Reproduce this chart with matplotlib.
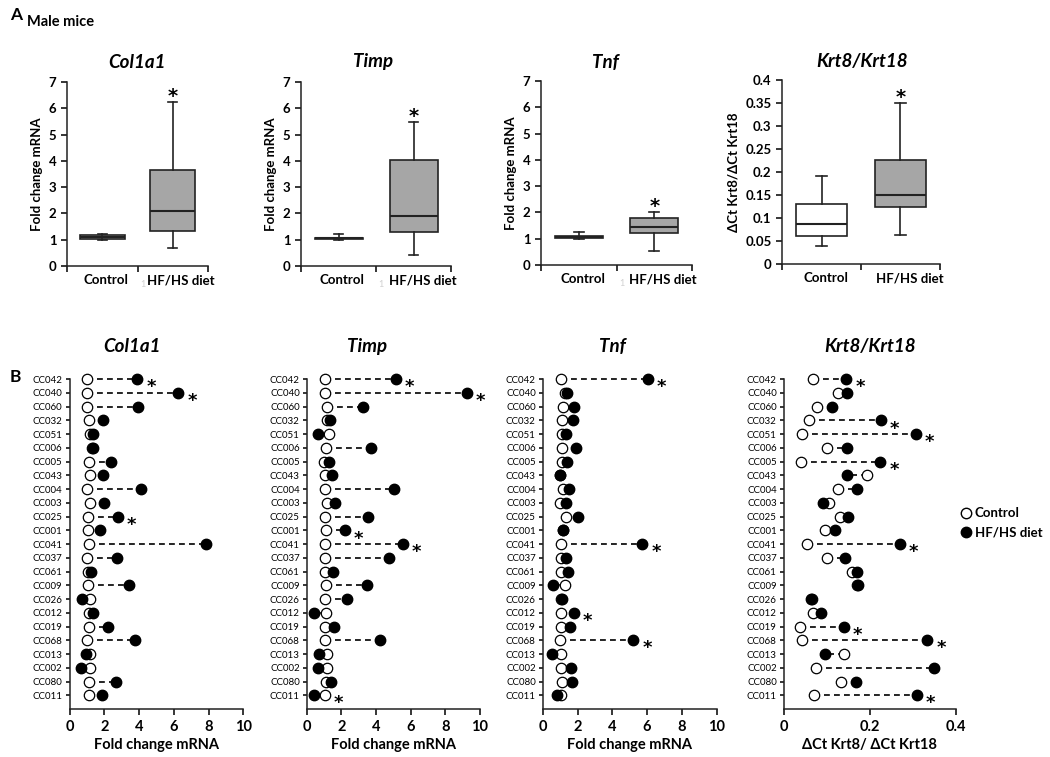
import matplotlib
matplotlib.use("Agg")
import matplotlib.pyplot as plt
from matplotlib.lines import Line2D

plt.rcParams["font.family"] = ["Lato", "DejaVu Sans"]

W, H = 1050, 757

# ── Panel A: box plot summaries [whislo, q1, med, q3, whishi] ──────────────
genes       = ["Col1a1", "Timp", "Tnf", "Krt8/Krt18"]
groups      = ["Control", "HF/HS diet"]
box_ctrl    = [[1.00, 1.03, 1.10, 1.17, 1.20],
               [1.00, 1.02, 1.05, 1.08, 1.20],
               [1.00, 1.02, 1.06, 1.10, 1.26],
               [0.040, 0.060, 0.086, 0.131, 0.192]]
box_hfhs    = [[0.70, 1.34, 2.10, 3.65, 6.23],
               [0.42, 1.28, 1.89, 4.03, 5.48],
               [0.54, 1.23, 1.46, 1.77, 2.00],
               [0.063, 0.123, 0.149, 0.225, 0.349]]
top_ylabels = ["Fold change mRNA", "Fold change mRNA", "Fold change mRNA",
               "ΔCt Krt8/ΔCt Krt18"]
top_ymax    = [7, 7, 7, 0.4]
top_ystep   = [1, 1, 1, 0.05]

# ── Panel B: per-strain means ──────────────────────────────────────────────
strains = ["CC042", "CC040", "CC060", "CC032", "CC051", "CC006", "CC005", "CC043",
           "CC004", "CC003", "CC025", "CC001", "CC041", "CC037", "CC061", "CC009",
           "CC026", "CC012", "CC019", "CC068", "CC013", "CC002", "CC080", "CC011"]

col1a1_ctrl = [1.03, 1.03, 1.00, 1.10, 1.18, 1.30, 1.15, 1.18, 1.00, 1.16, 1.07, 1.09,
               1.13, 1.00, 1.09, 1.09, 1.18, 1.15, 1.10, 1.00, 1.18, 1.18, 1.10, 1.10]
col1a1_hfhs = [3.90, 6.26, 3.96, 1.93, 1.34, 1.35, 2.37, 1.95, 4.10, 2.00, 2.79, 1.78,
               7.87, 2.75, 1.24, 3.44, 0.70, 1.38, 2.24, 3.77, 0.95, 0.68, 2.70, 1.87]
timp_ctrl   = [1.06, 1.06, 1.15, 1.20, 1.27, 1.10, 1.00, 1.08, 1.08, 1.15, 1.08, 1.12,
               1.08, 1.08, 1.06, 1.10, 1.08, 1.12, 1.06, 1.06, 1.15, 1.15, 1.12, 1.06]
timp_hfhs   = [5.15, 9.23, 3.23, 1.33, 0.67, 3.73, 1.31, 1.44, 5.04, 1.65, 3.52, 2.19,
               5.54, 4.77, 1.50, 3.46, 2.31, 0.44, 1.58, 4.23, 0.73, 0.67, 1.38, 0.44]
tnf_ctrl    = [1.03, 1.30, 1.15, 1.11, 1.13, 1.09, 1.09, 1.00, 1.19, 1.00, 1.34, 1.15,
               1.03, 1.03, 1.05, 1.28, 1.05, 1.05, 1.05, 1.00, 1.05, 1.03, 1.13, 1.03]
tnf_hfhs    = [6.03, 1.42, 1.80, 1.76, 1.34, 1.90, 1.42, 1.00, 1.49, 1.34, 2.01, 1.19,
               5.73, 1.32, 1.44, 0.61, 1.09, 1.80, 1.55, 5.21, 0.52, 1.65, 1.67, 0.84]
krt_ctrl    = [0.069, 0.127, 0.078, 0.059, 0.043, 0.100, 0.040, 0.193, 0.127, 0.106,
               0.131, 0.095, 0.053, 0.101, 0.159, 0.170, 0.065, 0.069, 0.039, 0.043,
               0.141, 0.075, 0.134, 0.070]
krt_hfhs    = [0.145, 0.146, 0.111, 0.226, 0.306, 0.146, 0.224, 0.148, 0.171, 0.092,
               0.149, 0.118, 0.270, 0.143, 0.171, 0.172, 0.063, 0.087, 0.140, 0.333,
               0.097, 0.348, 0.169, 0.309]

col1a1_sig = ["CC042", "CC040", "CC025"]
timp_sig   = ["CC042", "CC040", "CC001", "CC041", "CC011"]
tnf_sig    = ["CC042", "CC041", "CC012", "CC068"]
krt_sig    = ["CC042", "CC032", "CC051", "CC005", "CC041", "CC019", "CC068", "CC011"]

bot_ctrl    = [col1a1_ctrl, timp_ctrl, tnf_ctrl, krt_ctrl]
bot_hfhs    = [col1a1_hfhs, timp_hfhs, tnf_hfhs, krt_hfhs]
bot_sig     = [col1a1_sig, timp_sig, tnf_sig, krt_sig]
bot_xlabels = ["Fold change mRNA", "Fold change mRNA", "Fold change mRNA",
               "ΔCt Krt8/ ΔCt Krt18"]
bot_xmax    = [10, 10, 10, 0.4]
bot_xstep   = [2, 2, 2, 0.2]

STAR_FONT = ["DejaVu Sans"]


def px_axes(fig, l, r, t, b):
    return fig.add_axes([l / W, 1 - b / H, (r - l) / W, (b - t) / H])


def style_spines(ax):
    for side in ["top", "right"]:
        ax.spines[side].set_visible(False)
    for side in ["left", "bottom"]:
        ax.spines[side].set_linewidth(1.1)
        ax.spines[side].set_color("#222222")


fig = plt.figure(figsize=(W / 100, H / 100), dpi=100)

fig.text(10 / W, 1 - 15 / H, "A", fontsize=12.5, fontweight="bold", va="center")
fig.text(27 / W, 1 - 22 / H, "Male mice", fontsize=10.5, fontweight="bold", va="center")
fig.text(10 / W, 1 - 377 / H, "B", fontsize=12.5, fontweight="bold", va="center")

# ── A: box plots ───────────────────────────────────────────────────────────
top_boxes  = [(67, 208, 82, 266), (301, 451, 82, 266),
              (541, 692, 81, 265), (782, 940, 80, 264)]
top_titlex = [137, 373, 605, 862]

for i, g in enumerate(genes):
    ax = px_axes(fig, *top_boxes[i])
    stats = []
    for s, lab in zip([box_ctrl[i], box_hfhs[i]], groups):
        stats.append(dict(whislo=s[0], q1=s[1], med=s[2], q3=s[3], whishi=s[4],
                          label=lab))
    bp = ax.bxp(stats, positions=[1, 2], widths=0.64, patch_artist=True,
                showfliers=False, capwidths=0.13,
                boxprops=dict(edgecolor="#222222", linewidth=1.2),
                medianprops=dict(color="#222222", linewidth=1.5),
                whiskerprops=dict(color="#222222", linewidth=1.2),
                capprops=dict(color="#222222", linewidth=1.2))
    bp["boxes"][0].set_facecolor("white" if i == 3 else "#d0d0d0")
    bp["boxes"][1].set_facecolor("#a6a6a6")

    ax.set_xlim(0.5, 2.5)
    ax.set_ylim(0, top_ymax[i])
    n = int(round(top_ymax[i] / top_ystep[i]))
    yt = [k * top_ystep[i] for k in range(n + 1)]
    ax.set_yticks(yt)
    ax.set_yticklabels([f"{v:g}" for v in yt])
    ax.set_xticks([0.5, 1.5, 2.5])
    ax.set_xticklabels([])
    # Excel-style category labels sit a touch right of the box centres
    ax.set_xticks([1.05, 2.12], minor=True)
    ax.set_xticklabels(groups, minor=True, fontsize=9.5, fontweight="bold")
    ax.tick_params(axis="x", which="minor", length=0, pad=6)
    ax.tick_params(axis="x", which="major", length=4, direction="out", width=1.1)
    ax.tick_params(axis="y", length=4, direction="out", width=1.1, labelsize=9.5)
    for lab in ax.get_yticklabels():
        lab.set_fontweight("bold")
    style_spines(ax)
    ax.set_ylabel(top_ylabels[i], fontsize=9.5, fontweight="bold", labelpad=4)
    ax.annotate("*", (2, box_hfhs[i][4]), xytext=(0, 0), textcoords="offset points",
                ha="center", va="baseline", fontsize=14, fontweight="bold",
                family=STAR_FONT)
    if i < 3:
        ax.text(1.57, -0.075, "1", transform=ax.get_xaxis_transform(),
                fontsize=6.5, color="#d0d0d0", ha="center", va="top")
    fig.text(top_titlex[i] / W, 1 - 62 / H, g, fontsize=13.5, fontweight="bold",
             fontstyle="italic", ha="center", va="center")

# ── B: dumbbell plots ──────────────────────────────────────────────────────
bot_boxes  = [(69.5, 243.3), (306.7, 480), (542.7, 716.7), (783.7, 956)]
bot_titlex = [132, 367, 612, 870]
ypos = list(range(len(strains), 0, -1))

for i, g in enumerate(genes):
    l, r = bot_boxes[i]
    ax = px_axes(fig, l, r, 378.5, 709)
    ctrl, hfhs = bot_ctrl[i], bot_hfhs[i]
    for y, c, h in zip(ypos, ctrl, hfhs):
        ax.plot([c, h], [y, y], color="black", linewidth=1.2,
                linestyle=(0, (3.5, 2.5)), zorder=1, clip_on=False)
    ax.plot(ctrl, ypos, "o", markerfacecolor="white", markeredgecolor="black",
            markeredgewidth=0.9, markersize=7.5, zorder=2, clip_on=False)
    ax.plot(hfhs, ypos, "o", color="black", markersize=7.5, zorder=3, clip_on=False)
    for s in bot_sig[i]:
        k = strains.index(s)
        ax.annotate("*", (max(ctrl[k], hfhs[k]), ypos[k]), xytext=(6.5, -9.5),
                    textcoords="offset points", ha="left", va="baseline",
                    fontsize=13, fontweight="bold", family=STAR_FONT)

    ax.set_xlim(0, bot_xmax[i])
    ax.set_ylim(0, len(strains) + 0.05)
    n = int(round(bot_xmax[i] / bot_xstep[i]))
    xt = [k * bot_xstep[i] for k in range(n + 1)]
    ax.set_xticks(xt)
    ax.set_xticklabels([f"{v:g}" for v in xt], fontsize=10.5, fontweight="bold")
    ax.set_yticks(ypos)
    ax.set_yticklabels(strains, fontsize=7)
    ax.tick_params(axis="y", length=3, direction="out", width=1.1, pad=2)
    ax.tick_params(axis="x", length=4, direction="out", width=1.1, pad=4)
    style_spines(ax)
    ax.set_xlabel(bot_xlabels[i], fontsize=10.5, fontweight="bold", labelpad=3)
    fig.text(bot_titlex[i] / W, 1 - 347 / H, g, fontsize=13.5, fontweight="bold",
             fontstyle="italic", ha="center", va="center")

handles = [Line2D([], [], marker="o", linestyle="none", markerfacecolor="white",
                  markeredgecolor="black", markersize=7.5, label="Control"),
           Line2D([], [], marker="o", linestyle="none", color="black",
                  markersize=7.5, label="HF/HS diet")]
fig.legend(handles=handles, loc="center left", bbox_to_anchor=(960 / W, 1 - 523 / H),
           frameon=False, prop=dict(size=9.5, weight="bold"), handletextpad=0.2,
           handlelength=0.9, labelspacing=0.55, borderaxespad=0, borderpad=0)

fig.savefig("out.png", dpi=100)
